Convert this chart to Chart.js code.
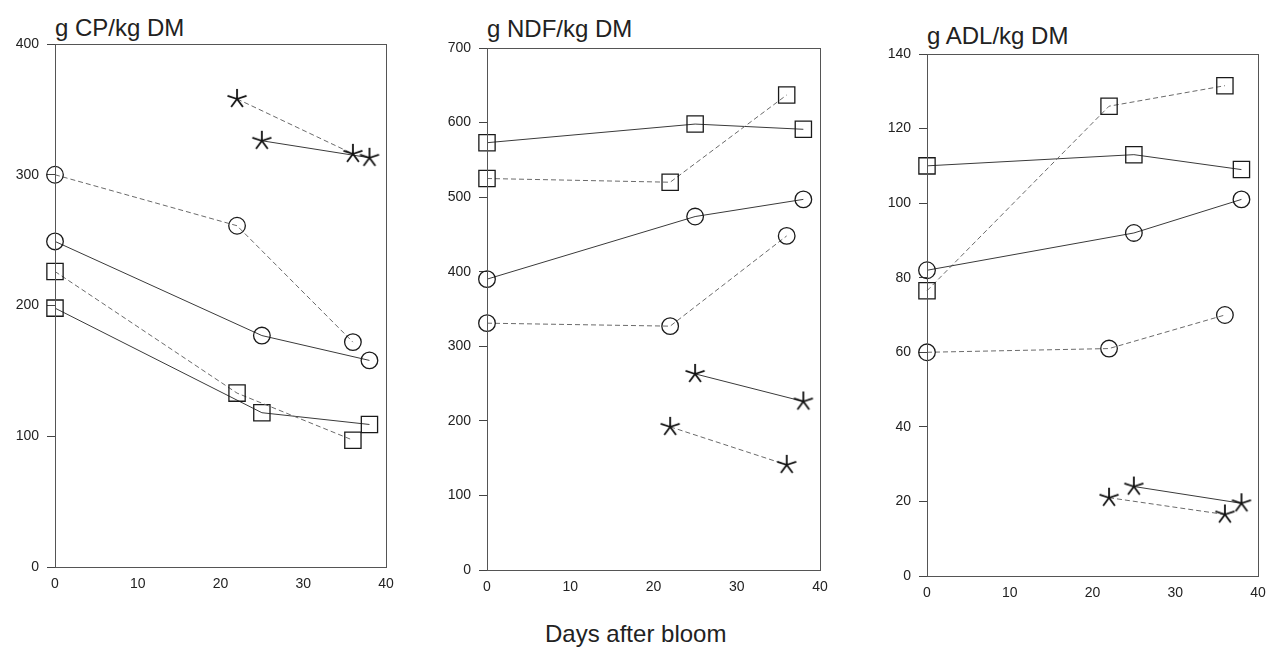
<!DOCTYPE html>
<html lang="en">
<head>
    <meta charset="UTF-8">
    <title>Forage composition after bloom</title>
    <style>
        * { margin: 0; padding: 0; box-sizing: border-box; }
        body { width: 1267px; height: 655px; background: #fff; overflow: hidden; position: relative; font-family: 'Liberation Sans', Arial, sans-serif; color: #222; }
        .panel { position: absolute; }
        .ptitle { position: absolute; font-size: 24px; line-height: 24px; white-space: nowrap; }
        .xlabel { position: absolute; left: 545px; top: 622px; font-size: 24px; line-height: 24px; white-space: nowrap; }
    </style>
</head>
<body>
    <div class="ptitle" style="left:55px; top:16px;">g CP/kg DM</div>
    <div class="ptitle" style="left:487px; top:17px;">g NDF/kg DM</div>
    <div class="ptitle" style="left:927px; top:24px;">g ADL/kg DM</div>
    <div class="xlabel">Days after bloom</div>

    <div class="panel" id="p1"><canvas id="c1"></canvas></div>
    <div class="panel" id="p2"><canvas id="c2"></canvas></div>
    <div class="panel" id="p3"><canvas id="c3"></canvas></div>

    <script src="https://cdn.jsdelivr.net/npm/chart.js"></script>
    <script>
        // sampling days: solid-line series and dashed-line series
        const solidDays = [0, 25, 38];
        const dashedDays = [0, 22, 36];
        const xTicks = [0, 10, 20, 30, 40];

        // g CP/kg DM
        const cpCircleSolid = [249, 177, 158];
        const cpCircleDashed = [300, 261, 172];
        const cpSquareSolid = [198, 118, 109];
        const cpSquareDashed = [226, 133, 97];
        const cpStarSolid = [null, 326, 313];
        const cpStarDashed = [null, 358, 316];
        const cpTicks = [0, 100, 200, 300, 400];

        // g NDF/kg DM
        const ndfCircleSolid = [390, 474, 497];
        const ndfCircleDashed = [331, 327, 448];
        const ndfSquareSolid = [573, 598, 591];
        const ndfSquareDashed = [525, 520, 637];
        const ndfStarSolid = [null, 263, 226];
        const ndfStarDashed = [null, 192, 141];
        const ndfTicks = [0, 100, 200, 300, 400, 500, 600, 700];

        // g ADL/kg DM
        const adlCircleSolid = [82, 92, 101];
        const adlCircleDashed = [60, 61, 70];
        const adlSquareSolid = [110, 113, 109];
        const adlSquareDashed = [76.5, 126, 131.5];
        const adlStarSolid = [null, 24, 19.5];
        const adlStarDashed = [null, 21, 16.5];
        const adlTicks = [0, 20, 40, 60, 80, 100, 120, 140];

        // asterisk marker drawn once on a small canvas
        function makeStar() {
            const c = document.createElement('canvas');
            c.width = 22; c.height = 22;
            const g = c.getContext('2d');
            g.strokeStyle = '#111';
            g.lineWidth = 1.8;
            g.beginPath();
            for (let i = 0; i < 5; i++) {
                const a = -Math.PI / 2 + i * 2 * Math.PI / 5;
                g.moveTo(11, 11);
                g.lineTo(11 + 10 * Math.cos(a), 11 + 10 * Math.sin(a));
            }
            g.stroke();
            return c;
        }
        const starImg = makeStar();

        function pts(days, vals) {
            return days.map((d, i) => ({ x: d, y: vals[i] })).filter(p => p.y !== null);
        }

        function series(days, vals, marker, dashed) {
            const ds = {
                data: pts(days, vals),
                showLine: true,
                borderColor: dashed ? '#6a6a6a' : '#3a3a3a',
                borderWidth: 1,
                borderDash: dashed ? [5, 3] : [],
                pointBorderColor: '#1a1a1a',
                pointBackgroundColor: 'rgba(0,0,0,0)',
                pointBorderWidth: 1.3,
                clip: false
            };
            if (marker === 'circle') { ds.pointStyle = 'circle'; ds.pointRadius = 8.3; }
            if (marker === 'square') { ds.pointStyle = 'rect'; ds.pointRadius = 11.5; }
            if (marker === 'star') { ds.pointStyle = starImg; ds.pointRadius = 10; }
            return ds;
        }

        const framePlugin = {
            id: 'frame',
            afterDatasetsDraw(chart) {
                const a = chart.chartArea, ctx = chart.ctx;
                ctx.save();
                ctx.strokeStyle = '#555';
                ctx.lineWidth = 1;
                ctx.strokeRect(a.left + 0.5, a.top + 0.5, a.right - a.left, a.bottom - a.top);
                ctx.restore();
            }
        };

        function makePanel(id, canvasId, rect, yTicks, sets) {
            const padL = 60, padT = 20, padR = 22, padB = 40;
            const w = rect.R - rect.L + padL + padR;
            const h = rect.B - rect.T + padT + padB;
            const box = document.getElementById(id);
            box.style.left = (rect.L - padL) + 'px';
            box.style.top = (rect.T - padT) + 'px';
            box.style.width = w + 'px';
            box.style.height = h + 'px';
            const cv = document.getElementById(canvasId);
            cv.width = w; cv.height = h;
            cv.style.width = w + 'px'; cv.style.height = h + 'px';

            new Chart(cv, {
                type: 'scatter',
                data: { datasets: sets },
                options: {
                    responsive: false,
                    animation: false,
                    layout: { padding: { top: padT, right: padR, left: 0, bottom: 0 } },
                    plugins: { legend: { display: false }, tooltip: { enabled: false } },
                    scales: {
                        x: {
                            type: 'linear', min: 0, max: 40,
                            afterFit: s => { s.height = padB; },
                            afterBuildTicks: s => { s.ticks = xTicks.map(v => ({ value: v })); },
                            grid: { display: true, drawOnChartArea: false, drawTicks: false },
                            border: { color: '#444', width: 1 },
                            ticks: { color: '#222', font: { family: 'Liberation Sans', size: 14 }, padding: 9, maxRotation: 0 }
                        },
                        y: {
                            type: 'linear', min: yTicks[0], max: yTicks[yTicks.length - 1],
                            afterFit: s => { s.width = padL; },
                            afterBuildTicks: s => { s.ticks = yTicks.map(v => ({ value: v })); },
                            grid: { display: true, drawOnChartArea: false, drawTicks: true, tickLength: 8, color: '#444' },
                            border: { color: '#444', width: 1 },
                            ticks: { color: '#222', font: { family: 'Liberation Sans', size: 14 }, padding: 8 }
                        }
                    }
                },
                plugins: [framePlugin]
            });
        }

        makePanel('p1', 'c1', { L: 55, T: 44, R: 386, B: 567 }, cpTicks, [
            series(dashedDays, cpCircleDashed, 'circle', true),
            series(solidDays, cpCircleSolid, 'circle', false),
            series(dashedDays, cpSquareDashed, 'square', true),
            series(solidDays, cpSquareSolid, 'square', false),
            series(dashedDays, cpStarDashed, 'star', true),
            series(solidDays, cpStarSolid, 'star', false)
        ]);

        makePanel('p2', 'c2', { L: 487, T: 48, R: 820, B: 570 }, ndfTicks, [
            series(dashedDays, ndfCircleDashed, 'circle', true),
            series(solidDays, ndfCircleSolid, 'circle', false),
            series(dashedDays, ndfSquareDashed, 'square', true),
            series(solidDays, ndfSquareSolid, 'square', false),
            series(dashedDays, ndfStarDashed, 'star', true),
            series(solidDays, ndfStarSolid, 'star', false)
        ]);

        makePanel('p3', 'c3', { L: 927, T: 54, R: 1258, B: 576 }, adlTicks, [
            series(dashedDays, adlCircleDashed, 'circle', true),
            series(solidDays, adlCircleSolid, 'circle', false),
            series(dashedDays, adlSquareDashed, 'square', true),
            series(solidDays, adlSquareSolid, 'square', false),
            series(dashedDays, adlStarDashed, 'star', true),
            series(solidDays, adlStarSolid, 'star', false)
        ]);
    </script>
</body>
</html>
